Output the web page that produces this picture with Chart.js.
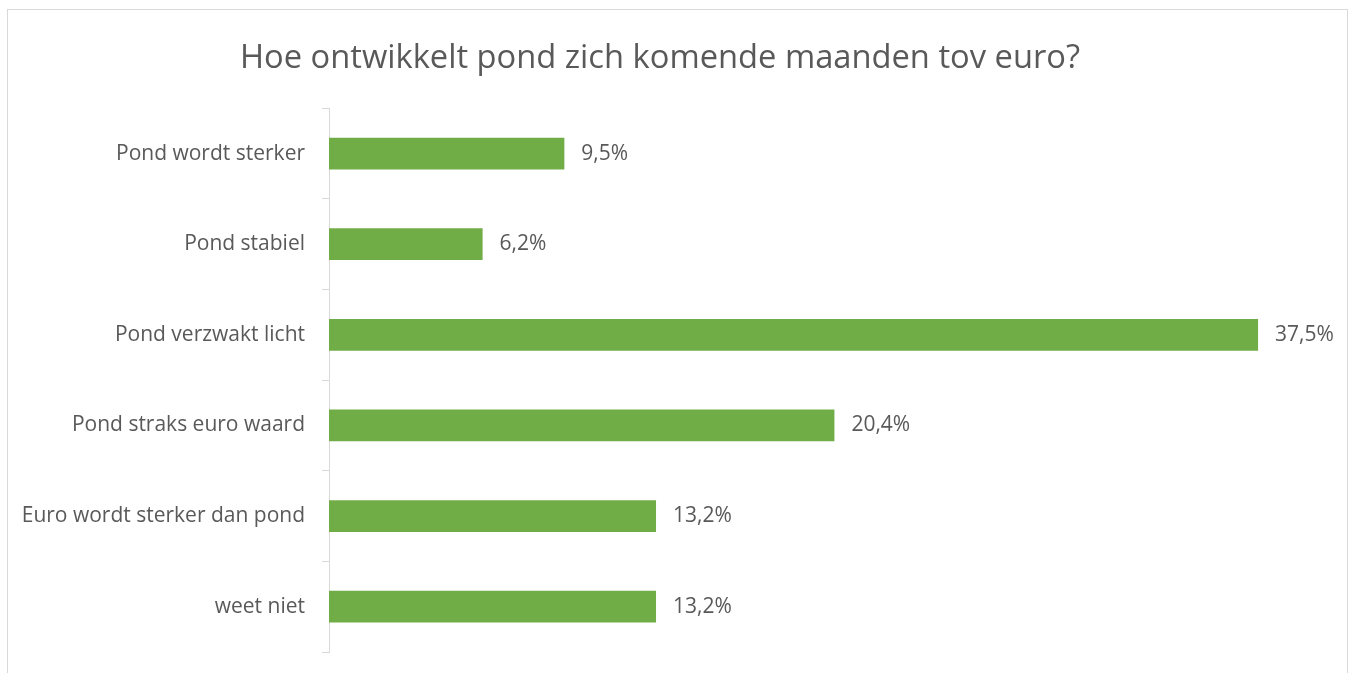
<!DOCTYPE html>
<html>
<head>
<meta charset="utf-8">
<script src="https://cdn.jsdelivr.net/npm/chart.js@4/dist/chart.umd.min.js"></script>
<style>
  html, body { margin: 0; padding: 0; background: #fff; overflow: hidden; }
  #frame { position: absolute; left: 7px; top: 9px; width: 1341px; height: 700px;
           box-sizing: border-box; border: 1px solid #d9d9d9; }
  #wrap { position: absolute; left: 0; top: 0; width: 1349px; height: 673px; }
</style>
</head>
<body>
<div id="frame"></div>
<div id="wrap"><canvas id="chart"></canvas></div>
<script>
'use strict';

const title = 'Hoe ontwikkelt pond zich komende maanden tov euro?';
const categories = [
  'Pond wordt sterker',
  'Pond stabiel',
  'Pond verzwakt licht',
  'Pond straks euro waard',
  'Euro wordt sterker dan pond',
  'weet niet'
];
const percentages = [9.5, 6.2, 37.5, 20.4, 13.2, 13.2];

const textColor = '#595959';
const fontFamily = '"Open Sans", sans-serif';

// value labels right of each bar, Dutch decimal comma
const valueLabels = {
  id: 'valueLabels',
  afterDatasetsDraw(chart) {
    const c = chart.ctx;
    c.save();
    c.font = '21px ' + fontFamily;
    c.fillStyle = textColor;
    c.textBaseline = 'middle';
    c.textAlign = 'left';
    chart.getDatasetMeta(0).data.forEach((bar, i) => {
      const v = chart.data.datasets[0].data[i];
      c.fillText(v.toFixed(1).replace('.', ',') + '%', bar.x + 17, bar.y);
    });
    c.restore();
  }
};

const ctx = document.getElementById('chart');

new Chart(ctx, {
  type: 'bar',
  data: {
    labels: categories,
    datasets: [{
      data: percentages,
      backgroundColor: '#70AD47',
      borderWidth: 0,
      categoryPercentage: 1,
      barPercentage: 0.35
    }]
  },
  plugins: [valueLabels],
  options: {
    indexAxis: 'y',
    responsive: true,
    maintainAspectRatio: false,
    animation: false,
    layout: { padding: { left: 0, right: 29, top: 0, bottom: 21 } },
    plugins: {
      legend: { display: false },
      tooltip: { enabled: false },
      title: {
        display: true,
        text: title,
        color: textColor,
        font: { family: fontFamily, size: 32.7, weight: 'normal' },
        padding: { top: 39, bottom: 30 }
      }
    },
    scales: {
      x: {
        display: false,
        min: 0,
        max: 40
      },
      y: {
        afterFit(scale) {
          scale.width = 329;
          scale.paddingTop = 0;
          scale.paddingBottom = 0;
        },
        border: { display: true, color: '#d9d9d9', width: 1 },
        grid: {
          offset: true,
          drawOnChartArea: false,
          drawTicks: true,
          tickLength: 7,
          color: '#d9d9d9'
        },
        ticks: {
          color: textColor,
          padding: 17,
          font: { family: fontFamily, size: 21 }
        }
      }
    }
  }
});
</script>
</body>
</html>
